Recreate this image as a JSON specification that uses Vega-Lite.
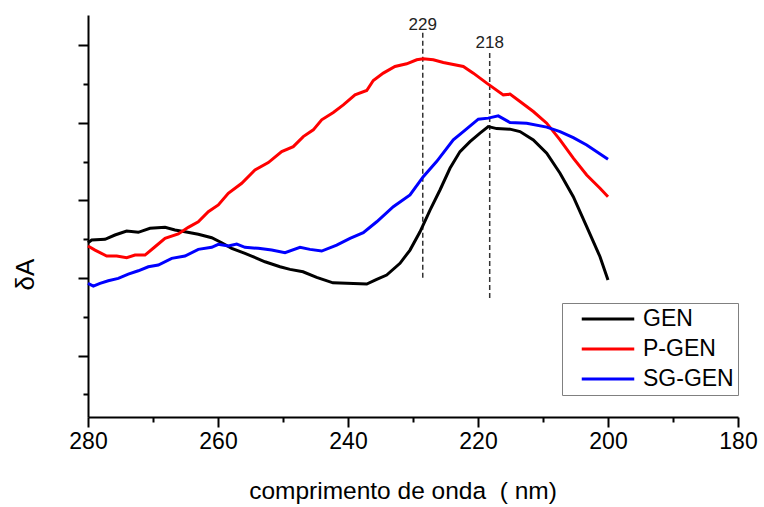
{
  "$schema": "https://vega.github.io/schema/vega-lite/v6.json",
  "width": 650,
  "height": 402,
  "autosize": {"type": "none"},
  "padding": {"left": 88, "top": 15, "right": 26, "bottom": 90},
  "background": "white",
  "config": {
    "view": {"stroke": null},
    "font": "Liberation Sans",
    "axis": {"domainColor": "black", "domainWidth": 2, "tickColor": "black", "tickWidth": 2, "grid": false, "labelColor": "black", "titleColor": "black", "titleFontWeight": "normal"}
  },
  "datasets": {
    "curves": [
      {"nm": 280, "v": 4.55, "s": "GEN"},
      {"nm": 279.43, "v": 4.9, "s": "GEN"},
      {"nm": 277.38, "v": 4.99, "s": "GEN"},
      {"nm": 275.85, "v": 5.55, "s": "GEN"},
      {"nm": 274.05, "v": 6.06, "s": "GEN"},
      {"nm": 272.26, "v": 5.9, "s": "GEN"},
      {"nm": 270.46, "v": 6.41, "s": "GEN"},
      {"nm": 268.15, "v": 6.54, "s": "GEN"},
      {"nm": 266.62, "v": 6.19, "s": "GEN"},
      {"nm": 265.08, "v": 5.97, "s": "GEN"},
      {"nm": 263.03, "v": 5.64, "s": "GEN"},
      {"nm": 260.97, "v": 5.2, "s": "GEN"},
      {"nm": 259.43, "v": 4.55, "s": "GEN"},
      {"nm": 257.89, "v": 3.83, "s": "GEN"},
      {"nm": 255.85, "v": 3.19, "s": "GEN"},
      {"nm": 252.77, "v": 2.1, "s": "GEN"},
      {"nm": 250.46, "v": 1.46, "s": "GEN"},
      {"nm": 248.92, "v": 1.12, "s": "GEN"},
      {"nm": 246.92, "v": 0.81, "s": "GEN"},
      {"nm": 244.82, "v": 0.09, "s": "GEN"},
      {"nm": 242.31, "v": -0.61, "s": "GEN"},
      {"nm": 240.2, "v": -0.68, "s": "GEN"},
      {"nm": 237.12, "v": -0.77, "s": "GEN"},
      {"nm": 235.58, "v": -0.17, "s": "GEN"},
      {"nm": 234.05, "v": 0.39, "s": "GEN"},
      {"nm": 232.0, "v": 1.9, "s": "GEN"},
      {"nm": 230.46, "v": 3.61, "s": "GEN"},
      {"nm": 228.92, "v": 5.97, "s": "GEN"},
      {"nm": 227.38, "v": 8.77, "s": "GEN"},
      {"nm": 225.85, "v": 11.35, "s": "GEN"},
      {"nm": 224.31, "v": 14.15, "s": "GEN"},
      {"nm": 222.77, "v": 16.3, "s": "GEN"},
      {"nm": 221.23, "v": 17.59, "s": "GEN"},
      {"nm": 219.69, "v": 18.67, "s": "GEN"},
      {"nm": 218.42, "v": 19.52, "s": "GEN"},
      {"nm": 217.12, "v": 19.26, "s": "GEN"},
      {"nm": 215.08, "v": 19.19, "s": "GEN"},
      {"nm": 213.54, "v": 18.88, "s": "GEN"},
      {"nm": 211.49, "v": 17.81, "s": "GEN"},
      {"nm": 209.43, "v": 16.09, "s": "GEN"},
      {"nm": 207.38, "v": 13.51, "s": "GEN"},
      {"nm": 205.34, "v": 10.49, "s": "GEN"},
      {"nm": 203.28, "v": 6.62, "s": "GEN"},
      {"nm": 201.23, "v": 2.75, "s": "GEN"},
      {"nm": 200, "v": -0.26, "s": "GEN"},

      {"nm": 280, "v": 4.13, "s": "P-GEN"},
      {"nm": 278.92, "v": 3.61, "s": "P-GEN"},
      {"nm": 277.12, "v": 2.84, "s": "P-GEN"},
      {"nm": 275.58, "v": 2.84, "s": "P-GEN"},
      {"nm": 274.05, "v": 2.62, "s": "P-GEN"},
      {"nm": 272.77, "v": 2.97, "s": "P-GEN"},
      {"nm": 271.23, "v": 2.97, "s": "P-GEN"},
      {"nm": 269.69, "v": 4.04, "s": "P-GEN"},
      {"nm": 268.15, "v": 5.12, "s": "P-GEN"},
      {"nm": 266.11, "v": 5.68, "s": "P-GEN"},
      {"nm": 264.57, "v": 6.54, "s": "P-GEN"},
      {"nm": 263.03, "v": 7.26, "s": "P-GEN"},
      {"nm": 261.49, "v": 8.55, "s": "P-GEN"},
      {"nm": 259.95, "v": 9.42, "s": "P-GEN"},
      {"nm": 258.42, "v": 10.93, "s": "P-GEN"},
      {"nm": 256.35, "v": 12.22, "s": "P-GEN"},
      {"nm": 254.31, "v": 13.94, "s": "P-GEN"},
      {"nm": 252.26, "v": 14.88, "s": "P-GEN"},
      {"nm": 250.2, "v": 16.3, "s": "P-GEN"},
      {"nm": 248.42, "v": 16.94, "s": "P-GEN"},
      {"nm": 246.88, "v": 18.23, "s": "P-GEN"},
      {"nm": 245.34, "v": 19.1, "s": "P-GEN"},
      {"nm": 244.05, "v": 20.39, "s": "P-GEN"},
      {"nm": 242.26, "v": 21.33, "s": "P-GEN"},
      {"nm": 240.72, "v": 22.32, "s": "P-GEN"},
      {"nm": 238.92, "v": 23.61, "s": "P-GEN"},
      {"nm": 237.12, "v": 24.17, "s": "P-GEN"},
      {"nm": 236.11, "v": 25.46, "s": "P-GEN"},
      {"nm": 234.57, "v": 26.41, "s": "P-GEN"},
      {"nm": 232.77, "v": 27.26, "s": "P-GEN"},
      {"nm": 230.97, "v": 27.61, "s": "P-GEN"},
      {"nm": 229.43, "v": 28.13, "s": "P-GEN"},
      {"nm": 228.42, "v": 28.26, "s": "P-GEN"},
      {"nm": 226.88, "v": 28.13, "s": "P-GEN"},
      {"nm": 225.34, "v": 27.78, "s": "P-GEN"},
      {"nm": 222.26, "v": 27.26, "s": "P-GEN"},
      {"nm": 220.72, "v": 26.41, "s": "P-GEN"},
      {"nm": 218.66, "v": 25.12, "s": "P-GEN"},
      {"nm": 216.11, "v": 23.61, "s": "P-GEN"},
      {"nm": 215.08, "v": 23.7, "s": "P-GEN"},
      {"nm": 213.54, "v": 22.75, "s": "P-GEN"},
      {"nm": 211.49, "v": 21.46, "s": "P-GEN"},
      {"nm": 209.43, "v": 19.96, "s": "P-GEN"},
      {"nm": 207.38, "v": 17.81, "s": "P-GEN"},
      {"nm": 205.34, "v": 15.45, "s": "P-GEN"},
      {"nm": 203.28, "v": 13.29, "s": "P-GEN"},
      {"nm": 201.23, "v": 11.57, "s": "P-GEN"},
      {"nm": 200, "v": 10.49, "s": "P-GEN"},

      {"nm": 280, "v": -0.68, "s": "SG-GEN"},
      {"nm": 279.18, "v": -1.03, "s": "SG-GEN"},
      {"nm": 278.15, "v": -0.68, "s": "SG-GEN"},
      {"nm": 276.88, "v": -0.35, "s": "SG-GEN"},
      {"nm": 275.34, "v": -0.04, "s": "SG-GEN"},
      {"nm": 273.8, "v": 0.52, "s": "SG-GEN"},
      {"nm": 272.26, "v": 0.94, "s": "SG-GEN"},
      {"nm": 270.72, "v": 1.46, "s": "SG-GEN"},
      {"nm": 269.18, "v": 1.68, "s": "SG-GEN"},
      {"nm": 267.12, "v": 2.54, "s": "SG-GEN"},
      {"nm": 265.08, "v": 2.84, "s": "SG-GEN"},
      {"nm": 263.03, "v": 3.7, "s": "SG-GEN"},
      {"nm": 260.97, "v": 3.96, "s": "SG-GEN"},
      {"nm": 259.95, "v": 4.35, "s": "SG-GEN"},
      {"nm": 258.42, "v": 4.13, "s": "SG-GEN"},
      {"nm": 257.12, "v": 4.39, "s": "SG-GEN"},
      {"nm": 255.85, "v": 3.96, "s": "SG-GEN"},
      {"nm": 253.8, "v": 3.83, "s": "SG-GEN"},
      {"nm": 251.74, "v": 3.61, "s": "SG-GEN"},
      {"nm": 249.69, "v": 3.26, "s": "SG-GEN"},
      {"nm": 247.38, "v": 3.96, "s": "SG-GEN"},
      {"nm": 245.85, "v": 3.7, "s": "SG-GEN"},
      {"nm": 244.05, "v": 3.48, "s": "SG-GEN"},
      {"nm": 241.74, "v": 4.26, "s": "SG-GEN"},
      {"nm": 239.69, "v": 5.12, "s": "SG-GEN"},
      {"nm": 237.65, "v": 5.85, "s": "SG-GEN"},
      {"nm": 235.58, "v": 7.26, "s": "SG-GEN"},
      {"nm": 233.03, "v": 9.2, "s": "SG-GEN"},
      {"nm": 230.46, "v": 10.71, "s": "SG-GEN"},
      {"nm": 228.42, "v": 13.07, "s": "SG-GEN"},
      {"nm": 226.37, "v": 15.01, "s": "SG-GEN"},
      {"nm": 223.8, "v": 17.81, "s": "SG-GEN"},
      {"nm": 222.26, "v": 18.88, "s": "SG-GEN"},
      {"nm": 219.95, "v": 20.48, "s": "SG-GEN"},
      {"nm": 218.42, "v": 20.61, "s": "SG-GEN"},
      {"nm": 216.88, "v": 20.9, "s": "SG-GEN"},
      {"nm": 215.08, "v": 20.04, "s": "SG-GEN"},
      {"nm": 212.51, "v": 19.96, "s": "SG-GEN"},
      {"nm": 209.43, "v": 19.45, "s": "SG-GEN"},
      {"nm": 207.38, "v": 18.88, "s": "SG-GEN"},
      {"nm": 205.34, "v": 18.1, "s": "SG-GEN"},
      {"nm": 203.28, "v": 17.16, "s": "SG-GEN"},
      {"nm": 200, "v": 15.32, "s": "SG-GEN"}
    ],
    "marks": [
      {"nm": 228.5, "top": 31.6, "bottom": 0, "label": "229", "ty": 32.0},
      {"nm": 218.2, "top": 29.0, "bottom": -2.8, "label": "218", "ty": 29.7}
    ]
  },
  "layer": [
    {
      "data": {"name": "marks"},
      "mark": {"type": "rule", "strokeDash": [5, 3], "color": "#333333", "strokeWidth": 1.5},
      "encoding": {
        "x": {"field": "nm", "type": "quantitative", "scale": {"domain": [180, 280], "reverse": true}},
        "y": {"field": "top", "type": "quantitative", "scale": {"domain": [-17.9, 33.9]}},
        "y2": {"field": "bottom"}
      }
    },
    {
      "data": {"name": "marks"},
      "mark": {"type": "text", "fontSize": 17, "baseline": "alphabetic", "align": "center", "color": "#222222"},
      "encoding": {
        "x": {"field": "nm", "type": "quantitative"},
        "y": {"field": "ty", "type": "quantitative"},
        "text": {"field": "label"}
      }
    },
    {
      "data": {"name": "curves"},
      "mark": {"type": "line", "strokeWidth": 3, "interpolate": "linear"},
      "encoding": {
        "x": {
          "field": "nm", "type": "quantitative",
          "scale": {"domain": [180, 280], "reverse": true, "nice": false, "zero": false},
          "axis": {
            "values": [180, 190, 200, 210, 220, 230, 240, 250, 260, 270, 280],
            "labelExpr": "datum.value % 20 === 0 ? datum.label : ''",
            "tickSize": {"condition": {"test": "datum.value % 20 === 0", "value": 10}, "value": 5},
            "labelFontSize": 23, "labelPadding": 3,
            "labelFlush": false,
            "title": "comprimento de onda\u00a0\u00a0( nm)", "titleFontSize": 24.5,
            "titleX": 314.5, "titlePadding": 26
          }
        },
        "y": {
          "field": "v", "type": "quantitative",
          "scale": {"domain": [-17.9, 33.9], "nice": false, "zero": false},
          "axis": {
            "values": [-15, -10, -5, 0, 5, 10, 15, 20, 25, 30],
            "labels": false,
            "tickSize": {"condition": {"test": "datum.value % 10 === 0", "value": 10}, "value": 5},
            "title": "δA", "titleFontSize": 26,
            "titleX": -63, "titleY": 259, "titleAngle": -90, "titleAlign": "center", "titleBaseline": "middle"
          }
        },
        "color": {
          "field": "s", "type": "nominal",
          "scale": {"domain": ["GEN", "P-GEN", "SG-GEN"], "range": ["#000000", "#ff0000", "#0000ff"]},
          "legend": {
            "title": null, "orient": "none", "legendX": 474, "legendY": 288,
            "symbolType": "M-2.5,0H2.5", "symbolSize": 441, "symbolStrokeWidth": 3,
            "labelFontSize": 23, "labelColor": "black", "labelOffset": 23,
            "strokeColor": "#808080", "padding": 4, "rowPadding": 6,
            "symbolOffset": 30
          }
        }
      }
    }
  ]
}
